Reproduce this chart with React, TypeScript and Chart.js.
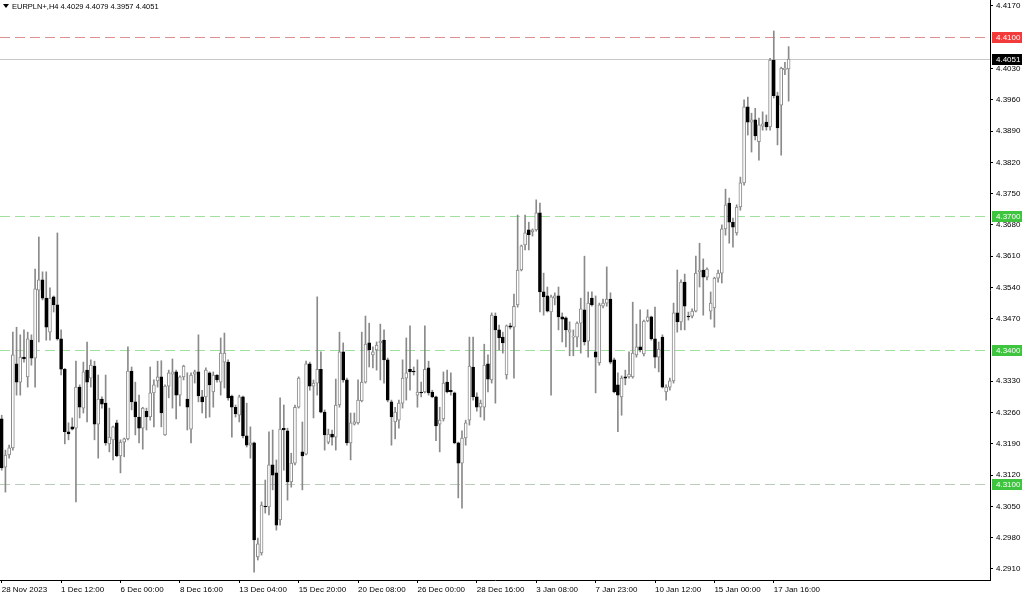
import { useEffect, useRef } from "react";
import { Chart, registerables } from "chart.js";
Chart.register(...registerables);

const symbolTitle = "EURPLN+,H4 4.4029 4.4079 4.3957 4.4051";

const opens = [
  4.3246, 4.3138, 4.3165, 4.3181, 4.3369, 4.3328, 4.3384, 4.3340, 4.3422, 4.3382,
  4.3534, 4.3557, 4.3516, 4.3440, 4.3519, 4.3501, 4.3425, 4.3357, 4.3217, 4.3228,
  4.3225, 4.3317, 4.3270, 4.3355, 4.3337, 4.3364, 4.3234, 4.3290, 4.3281, 4.3190,
  4.3199, 4.3237, 4.3163, 4.3194, 4.3201, 4.3353, 4.3284, 4.3250, 4.3225, 4.3263,
  4.3250, 4.3304, 4.3331, 4.3340, 4.3210, 4.3319, 4.3346, 4.3351, 4.3299, 4.3340,
  4.3290, 4.3223, 4.3346, 4.3351, 4.3295, 4.3295, 4.3349, 4.3306, 4.3344, 4.3328,
  4.3373, 4.3373, 4.3297, 4.3272, 4.3254, 4.3295, 4.3208, 4.3187, 4.3192, 4.2937,
  4.2946, 4.3051, 4.3049, 4.3143, 4.3125, 4.3020, 4.3225, 4.3219, 4.3105, 4.3147,
  4.3272, 4.3172, 4.3167, 4.3369, 4.3319, 4.3326, 4.3357, 4.3261, 4.3194, 4.3212,
  4.3205, 4.3277, 4.3396, 4.3333, 4.3192, 4.3234, 4.3237, 4.3286, 4.3328, 4.3416,
  4.3389, 4.3400, 4.3416, 4.3422, 4.3378, 4.3284, 4.3239, 4.3243, 4.3281, 4.3337,
  4.3357, 4.3353, 4.3299, 4.3306, 4.3306, 4.3360, 4.3306, 4.3295, 4.3234, 4.3246,
  4.3328, 4.3310, 4.3304, 4.3192, 4.3147, 4.3203, 4.3243, 4.3362, 4.3295, 4.3272,
  4.3272, 4.3369, 4.3333, 4.3476, 4.3445, 4.3429, 4.3344, 4.3454, 4.3451, 4.3501,
  4.3579, 4.3635, 4.3669, 4.3664, 4.3669, 4.3707, 4.3530, 4.3521, 4.3485, 4.3516,
  4.3521, 4.3474, 4.3472, 4.3440, 4.3429, 4.3429, 4.3460, 4.3490, 4.3420, 4.3516,
  4.3396, 4.3371, 4.3498, 4.3505, 4.3514, 4.3378, 4.3322, 4.3295, 4.3340, 4.3340,
  4.3340, 4.3389, 4.3407, 4.3391, 4.3465, 4.3474, 4.3425, 4.3384, 4.3429, 4.3306,
  4.3317, 4.3331, 4.3483, 4.3463, 4.3552, 4.3476, 4.3476, 4.3487, 4.3575, 4.3579,
  4.3563, 4.3487, 4.3494, 4.3561, 4.3572, 4.3671, 4.3729, 4.3686, 4.3662, 4.3720,
  4.3774, 4.3944, 4.3910, 4.3915, 4.3866, 4.3901, 4.3910, 4.3899, 4.4049, 4.3969,
  4.3948, 4.4027, 4.4029,
];

const highs = [
  4.3254, 4.3176, 4.3187, 4.3440, 4.3451, 4.3434, 4.3445, 4.3440, 4.3434, 4.3581,
  4.3653, 4.3575, 4.3575, 4.3539, 4.3521, 4.3662, 4.3445, 4.3359, 4.3237, 4.3248,
  4.3375, 4.3322, 4.3373, 4.3418, 4.3378, 4.3375, 4.3344, 4.3295, 4.3344, 4.3270,
  4.3230, 4.3243, 4.3199, 4.3203, 4.3407, 4.3362, 4.3328, 4.3299, 4.3272, 4.3270,
  4.3362, 4.3333, 4.3375, 4.3376, 4.3322, 4.3355, 4.3380, 4.3355, 4.3342, 4.3366,
  4.3349, 4.3349, 4.3355, 4.3434, 4.3310, 4.3360, 4.3351, 4.3351, 4.3345, 4.3427,
  4.3438, 4.3378, 4.3299, 4.3277, 4.3299, 4.3297, 4.3281, 4.3228, 4.3194, 4.2979,
  4.3060, 4.3109, 4.3217, 4.3221, 4.3154, 4.3293, 4.3277, 4.3225, 4.3169, 4.3277,
  4.3340, 4.3239, 4.3375, 4.3373, 4.3333, 4.3519, 4.3396, 4.3266, 4.3223, 4.3221,
  4.3335, 4.3440, 4.3416, 4.3337, 4.3259, 4.3259, 4.3333, 4.3440, 4.3476, 4.3460,
  4.3407, 4.3418, 4.3458, 4.3445, 4.3382, 4.3288, 4.3272, 4.3288, 4.3378, 4.3427,
  4.3454, 4.3362, 4.3378, 4.3328, 4.3454, 4.3375, 4.3310, 4.3297, 4.3272, 4.3351,
  4.3355, 4.3349, 4.3306, 4.3194, 4.3219, 4.3243, 4.3429, 4.3429, 4.3304, 4.3288,
  4.3413, 4.3389, 4.3483, 4.3483, 4.3456, 4.3440, 4.3456, 4.3460, 4.3525, 4.3702,
  4.3635, 4.3702, 4.3686, 4.3671, 4.3736, 4.3729, 4.3572, 4.3541, 4.3523, 4.3528,
  4.3541, 4.3483, 4.3474, 4.3463, 4.3445, 4.3463, 4.3516, 4.3610, 4.3530, 4.3530,
  4.3521, 4.3505, 4.3514, 4.3586, 4.3528, 4.3382, 4.3349, 4.3342, 4.3355, 4.3396,
  4.3507, 4.3458, 4.3490, 4.3467, 4.3490, 4.3476, 4.3496, 4.3418, 4.3434, 4.3322,
  4.3337, 4.3505, 4.3579, 4.3557, 4.3570, 4.3485, 4.3492, 4.3610, 4.3639, 4.3604,
  4.3584, 4.3530, 4.3563, 4.3579, 4.3680, 4.3760, 4.3740, 4.3695, 4.3725, 4.3787,
  4.3960, 4.3966, 4.3930, 4.3941, 4.3919, 4.3933, 4.3926, 4.4053, 4.4114, 4.3977,
  4.4033, 4.4044, 4.4079,
];

const lows = [
  4.3131, 4.3082, 4.3158, 4.3176, 4.3299, 4.3299, 4.3373, 4.3317, 4.3366, 4.3317,
  4.3418, 4.3512, 4.3422, 4.3422, 4.3485, 4.3422, 4.3344, 4.3190, 4.3199, 4.3221,
  4.3060, 4.3248, 4.3259, 4.3239, 4.3317, 4.3199, 4.3158, 4.3270, 4.3187, 4.3172,
  4.3154, 4.3161, 4.3125, 4.3161, 4.3199, 4.3266, 4.3210, 4.3192, 4.3178, 4.3221,
  4.3243, 4.3228, 4.3317, 4.3228, 4.3209, 4.3293, 4.3270, 4.3246, 4.3275, 4.3333,
  4.3221, 4.3192, 4.3326, 4.3284, 4.3259, 4.3248, 4.3250, 4.3272, 4.3328, 4.3299,
  4.3315, 4.3288, 4.3205, 4.3250, 4.3239, 4.3203, 4.3183, 4.3158, 4.2903, 4.2930,
  4.2941, 4.3035, 4.3031, 4.3087, 4.2997, 4.3008, 4.3131, 4.3064, 4.3093, 4.3143,
  4.3270, 4.3087, 4.3165, 4.3310, 4.3248, 4.3299, 4.3259, 4.3176, 4.3190, 4.3187,
  4.3176, 4.3272, 4.3328, 4.3187, 4.3154, 4.3232, 4.3234, 4.3284, 4.3326, 4.3362,
  4.3360, 4.3355, 4.3333, 4.3326, 4.3284, 4.3187, 4.3201, 4.3225, 4.3270, 4.3288,
  4.3310, 4.3344, 4.3272, 4.3295, 4.3304, 4.3299, 4.3293, 4.3197, 4.3172, 4.3241,
  4.3304, 4.3299, 4.3190, 4.3069, 4.3046, 4.3187, 4.3232, 4.3288, 4.3263, 4.3250,
  4.3243, 4.3306, 4.3326, 4.3281, 4.3400, 4.3393, 4.3335, 4.3447, 4.3337, 4.3496,
  4.3577, 4.3624, 4.3624, 4.3655, 4.3666, 4.3485, 4.3478, 4.3485, 4.3299, 4.3501,
  4.3445, 4.3418, 4.3407, 4.3387, 4.3387, 4.3407, 4.3393, 4.3411, 4.3384, 4.3498,
  4.3304, 4.3366, 4.3494, 4.3498, 4.3369, 4.3304, 4.3217, 4.3254, 4.3322, 4.3337,
  4.3337, 4.3384, 4.3396, 4.3387, 4.3463, 4.3422, 4.3360, 4.3351, 4.3315, 4.3288,
  4.3310, 4.3326, 4.3440, 4.3445, 4.3445, 4.3467, 4.3472, 4.3485, 4.3541, 4.3478,
  4.3557, 4.3469, 4.3451, 4.3552, 4.3550, 4.3657, 4.3639, 4.3630, 4.3657, 4.3713,
  4.3769, 4.3881, 4.3843, 4.3870, 4.3825, 4.3892, 4.3892, 4.3892, 4.3964, 4.3859,
  4.3836, 4.4016, 4.3957,
];

const closes = [
  4.3136, 4.3165, 4.3181, 4.3389, 4.3328, 4.3384, 4.3380, 4.3425, 4.3382, 4.3537,
  4.3557, 4.3516, 4.3451, 4.3516, 4.3501, 4.3425, 4.3357, 4.3217, 4.3212, 4.3223,
  4.3317, 4.3272, 4.3351, 4.3328, 4.3366, 4.3234, 4.3290, 4.3279, 4.3192, 4.3205,
  4.3228, 4.3163, 4.3194, 4.3201, 4.3353, 4.3284, 4.3250, 4.3225, 4.3270, 4.3250,
  4.3304, 4.3322, 4.3340, 4.3259, 4.3319, 4.3349, 4.3351, 4.3299, 4.3340, 4.3364,
  4.3272, 4.3344, 4.3351, 4.3297, 4.3284, 4.3355, 4.3322, 4.3344, 4.3333, 4.3393,
  4.3393, 4.3293, 4.3272, 4.3257, 4.3295, 4.3208, 4.3187, 4.3192, 4.2975, 4.2966,
  4.3053, 4.3049, 4.3143, 4.3120, 4.3008, 4.3223, 4.3221, 4.3105, 4.3147, 4.3272,
  4.3337, 4.3163, 4.3369, 4.3319, 4.3326, 4.3357, 4.3261, 4.3210, 4.3212, 4.3205,
  4.3277, 4.3396, 4.3333, 4.3192, 4.3237, 4.3239, 4.3288, 4.3328, 4.3413, 4.3400,
  4.3396, 4.3411, 4.3420, 4.3378, 4.3288, 4.3250, 4.3261, 4.3281, 4.3337, 4.3349,
  4.3351, 4.3351, 4.3306, 4.3304, 4.3357, 4.3304, 4.3295, 4.3230, 4.3243, 4.3326,
  4.3306, 4.3306, 4.3192, 4.3147, 4.3203, 4.3237, 4.3364, 4.3295, 4.3272, 4.3281,
  4.3366, 4.3335, 4.3478, 4.3445, 4.3427, 4.3416, 4.3454, 4.3451, 4.3498, 4.3579,
  4.3633, 4.3662, 4.3658, 4.3669, 4.3707, 4.3530, 4.3519, 4.3487, 4.3519, 4.3521,
  4.3474, 4.3469, 4.3445, 4.3445, 4.3431, 4.3460, 4.3492, 4.3418, 4.3505, 4.3501,
  4.3384, 4.3501, 4.3505, 4.3514, 4.3373, 4.3306, 4.3299, 4.3337, 4.3337, 4.3346,
  4.3393, 4.3407, 4.3400, 4.3465, 4.3474, 4.3425, 4.3384, 4.3402, 4.3317, 4.3317,
  4.3331, 4.3483, 4.3463, 4.3552, 4.3498, 4.3474, 4.3487, 4.3572, 4.3579, 4.3563,
  4.3581, 4.3505, 4.3561, 4.3572, 4.3671, 4.3725, 4.3686, 4.3675, 4.3720, 4.3774,
  4.3944, 4.3910, 4.3915, 4.3879, 4.3904, 4.3906, 4.3899, 4.4049, 4.3969, 4.3897,
  4.4031, 4.4031, 4.4051,
];

const timeLabelIndex = [0, 16, 32, 48, 64, 80, 96, 112, 128, 144, 160, 176, 192, 208];
const timeLabels = [
  "28 Nov 2023", "1 Dec 12:00", "6 Dec 00:00", "8 Dec 16:00", "13 Dec 04:00",
  "15 Dec 20:00", "20 Dec 08:00", "26 Dec 00:00", "28 Dec 16:00", "3 Jan 08:00",
  "7 Jan 23:00", "10 Jan 12:00", "15 Jan 00:00", "17 Jan 16:00",
];

const priceTicks = [
  4.4170, 4.4030, 4.3960, 4.3890, 4.3820, 4.3750, 4.3680, 4.3610, 4.3540, 4.3470,
  4.3330, 4.3260, 4.3190, 4.3120, 4.3050, 4.2980, 4.2910,
];

const levelValues = [4.4100, 4.3700, 4.3400, 4.3100];
const bidPrice = 4.4051;

// styles
const levelLineColors = ["#dc9090", "#9fe09f", "#9fe09f", "#b9cdb9"];
const levelLabelColors = ["#f23a3a", "#3ec43e", "#3ec43e", "#3ec43e"];
const WICK = "#8a8a8a";
const FONT = '"Liberation Sans", Arial, sans-serif';

export default function App() {
  const ref = useRef<HTMLCanvasElement>(null);

  useEffect(() => {
    const canvas = ref.current;
    if (!canvas) return;
    const ctx = canvas.getContext("2d");
    if (!ctx) return;

    const bull = opens.map((o, i) => closes[i] >= o);
    const wickData = opens.map((_, i) => ({ x: i, y: [lows[i], highs[i]] }));
    const bodyData = opens.map((o, i) => ({ x: i, y: [o, closes[i]] }));

    const overlay = {
      id: "mt4overlay",
      beforeDatasetsDraw(chart: any) {
        const { ctx: c, chartArea: a, scales } = chart;
        const ys = scales.y;
        c.save();
        c.lineWidth = 1;
        const by = Math.round(ys.getPixelForValue(bidPrice)) + 0.5;
        c.strokeStyle = "#c8c8c8";
        c.setLineDash([]);
        c.beginPath();
        c.moveTo(a.left, by);
        c.lineTo(a.right, by);
        c.stroke();
        levelValues.forEach((v, k) => {
          const y = Math.round(ys.getPixelForValue(v)) + 0.5;
          c.strokeStyle = levelLineColors[k];
          c.setLineDash([10, 5]);
          c.beginPath();
          c.moveTo(a.left, y);
          c.lineTo(a.right, y);
          c.stroke();
        });
        c.restore();
      },
      afterDraw(chart: any) {
        const { ctx: c, chartArea: a, scales } = chart;
        const ys = scales.y;
        c.save();
        c.font = `8px ${FONT}`;
        c.textBaseline = "middle";
        c.textAlign = "left";
        const drawLabel = (v: number, bg: string) => {
          const y = Math.round(ys.getPixelForValue(v));
          c.fillStyle = bg;
          c.fillRect(a.right + 2, y - 5, 30, 11);
          c.fillStyle = "#ffffff";
          c.fillText(v.toFixed(4), a.right + 6, y + 0.5);
        };
        levelValues.forEach((v, k) => drawLabel(v, levelLabelColors[k]));
        drawLabel(bidPrice, "#000000");
        c.fillStyle = "#000000";
        c.beginPath();
        c.moveTo(3, 4);
        c.lineTo(9, 4);
        c.lineTo(6, 8);
        c.closePath();
        c.fill();
        c.font = `7.5px ${FONT}`;
        c.fillText(symbolTitle, 12, 6.5);
        c.restore();
      },
    };

    const chart = new Chart(ctx, {
      type: "bar",
      data: {
        datasets: [
          {
            data: wickData as any,
            backgroundColor: WICK,
            borderWidth: 0,
            barThickness: 1,
            grouped: false,
            order: 2,
          } as any,
          {
            data: bodyData as any,
            backgroundColor: bull.map((b) => (b ? "#ffffff" : "#000000")),
            borderColor: bull.map((b) => (b ? WICK : "#000000")),
            borderWidth: 1,
            borderSkipped: false,
            barThickness: 3,
            grouped: false,
            order: 1,
          } as any,
        ],
      },
      options: {
        animation: false,
        responsive: false,
        devicePixelRatio: 1,
        layout: { padding: 0 },
        plugins: {
          legend: { display: false },
          tooltip: { enabled: false },
        },
        scales: {
          x: {
            type: "linear",
            min: -0.46,
            max: 266.25,
            offset: false,
            grid: {
              offset: false,
              drawOnChartArea: false,
              drawTicks: true,
              tickLength: 3,
              color: "#000000",
            },
            border: { display: true, color: "#000000" },
            afterBuildTicks: (axis: any) => {
              axis.ticks = timeLabelIndex.map((v) => ({ value: v }));
            },
            afterFit: (axis: any) => {
              axis.height = 19;
              axis.paddingLeft = 0;
              axis.paddingRight = 0;
            },
            ticks: {
              autoSkip: false,
              maxRotation: 0,
              minRotation: 0,
              align: "start",
              padding: 2,
              color: "#000000",
              font: { family: FONT, size: 8 },
              callback: (_v: any, i: number) => timeLabels[i] ?? "",
            },
          } as any,
          y: {
            position: "right",
            min: 4.28853,
            max: 4.41833,
            grid: {
              drawOnChartArea: false,
              drawTicks: true,
              tickLength: 3,
              color: "#000000",
            },
            border: { display: true, color: "#000000" },
            afterBuildTicks: (axis: any) => {
              axis.ticks = priceTicks.map((v) => ({ value: v }));
            },
            afterFit: (axis: any) => {
              axis.width = 34;
              axis.paddingTop = 0;
              axis.paddingBottom = 0;
            },
            ticks: {
              padding: 3,
              color: "#000000",
              font: { family: FONT, size: 8 },
              callback: (v: any) => Number(v).toFixed(4),
            },
          } as any,
        },
      },
      plugins: [overlay as any],
    });

    return () => chart.destroy();
  }, []);

  return (
    <div
      style={{
        position: "fixed",
        left: 0,
        top: 0,
        width: 1024,
        height: 599,
        background: "#ffffff",
      }}
    >
      <canvas ref={ref} width={1024} height={599} style={{ display: "block" }} />
    </div>
  );
}
